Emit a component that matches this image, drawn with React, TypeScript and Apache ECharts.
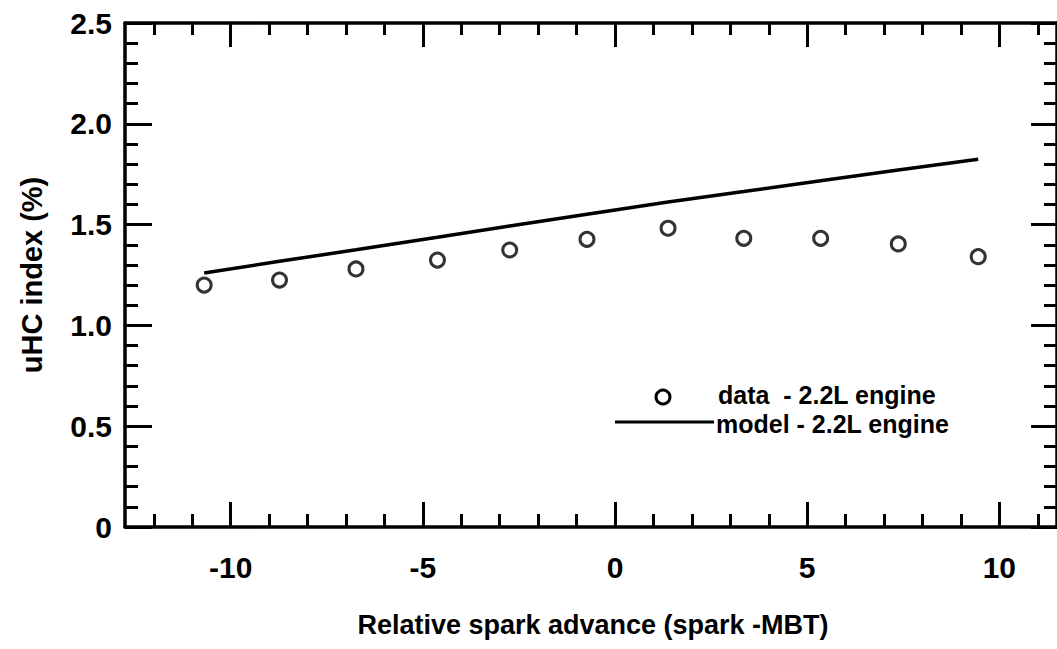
import React, { useEffect, useRef } from "react";
import * as echarts from "echarts";

const sparkAdvance = [-10.69, -8.73, -6.74, -4.62, -2.74, -0.73, 1.38, 3.35, 5.35, 7.37, 9.45];
const dataUHC = [1.2, 1.225, 1.28, 1.324, 1.374, 1.427, 1.482, 1.432, 1.432, 1.404, 1.341];
const modelUHC = [1.26, 1.318, 1.375, 1.437, 1.493, 1.551, 1.612, 1.664, 1.718, 1.771, 1.824];
const xMajorTicks = [-10, -5, 0, 5, 10];
const xMinorTicks = [-12, -11, -9, -8, -7, -6, -4, -3, -2, -1, 1, 2, 3, 4, 6, 7, 8, 9, 11];
const legendData = "data  - 2.2L engine";
const legendModel = "model - 2.2L engine";
const xTitle = "Relative spark advance (spark -MBT)";
const yTitle = "uHC index (%)";

const FONT = "'Liberation Sans', Arial, Helvetica, sans-serif";

export default function App() {
  const ref = useRef<HTMLDivElement>(null);
  useEffect(() => {
    if (!ref.current) return;
    const chart = echarts.init(ref.current, undefined, { renderer: "svg" });
    const xMin = -12.75;
    const xMax = 11.5;
    const lineStyle = { color: "#000", width: 3 };
    const mkX = (pos: string, ticks: number[], len: number, showLine: boolean, showLabel: boolean) => ({
      type: "value",
      gridIndex: 0,
      position: pos,
      min: xMin,
      max: xMax,
      axisLine: { show: showLine, onZero: false, lineStyle: { color: "#000", width: 3.5 } },
      axisTick: { show: true, inside: true, length: len, customValues: ticks, lineStyle },
      axisLabel: showLabel
        ? {
            show: true,
            customValues: ticks,
            margin: 25,
            fontSize: 30,
            fontWeight: "bold",
            color: "#000",
            fontFamily: FONT,
          }
        : { show: false },
      splitLine: { show: false },
    });
    const mkY = (pos: string, showLabel: boolean, major: number) => ({
      type: "value",
      gridIndex: 0,
      position: pos,
      min: 0,
      max: 2.5,
      interval: 0.5,
      axisLine: { show: true, onZero: false, lineStyle: { color: "#000", width: 3.5 } },
      axisTick: { show: true, inside: true, length: major, lineStyle },
      minorTick: { show: true, splitNumber: 5, length: 13, lineStyle },
      axisLabel: showLabel
        ? {
            show: true,
            margin: 13,
            fontSize: 30,
            fontWeight: "bold",
            color: "#000",
            fontFamily: FONT,
            formatter: (v: number) => (v === 0 ? "0" : v.toFixed(1)),
          }
        : { show: false },
      splitLine: { show: false },
      minorSplitLine: { show: false },
    });
    chart.setOption({
      animation: false,
      backgroundColor: "#fff",
      grid: { left: 125, top: 23, width: 936, height: 504, containLabel: false },
      xAxis: [
        mkX("bottom", xMajorTicks, 25, true, true),
        mkX("bottom", xMinorTicks, 13, false, false),
        mkX("top", xMajorTicks, 24, true, false),
        mkX("top", xMinorTicks, 12, false, false),
      ],
      yAxis: [mkY("left", true, 27), mkY("right", false, 26)],
      series: [
        {
          type: "line",
          name: "model",
          xAxisIndex: 0,
          yAxisIndex: 0,
          data: sparkAdvance.map((x, i) => [x, modelUHC[i]]),
          showSymbol: false,
          symbol: "none",
          lineStyle: { color: "#000", width: 3.5 },
          z: 3,
        },
        {
          type: "scatter",
          name: "data",
          xAxisIndex: 0,
          yAxisIndex: 0,
          data: sparkAdvance.map((x, i) => [x, dataUHC[i]]),
          symbol: "circle",
          symbolSize: 14,
          itemStyle: { color: "#fff", borderColor: "#000", borderWidth: 3 },
          z: 4,
        },
      ],
      graphic: [
        {
          type: "circle",
          shape: { cx: 663, cy: 397, r: 7 },
          style: { fill: "#fff", stroke: "#000", lineWidth: 3 },
        },
        {
          type: "text",
          x: 718,
          y: 395,
          style: {
            text: legendData,
            font: `bold 25px ${FONT}`,
            fill: "#000",
            textVerticalAlign: "middle",
          },
        },
        {
          type: "line",
          shape: { x1: 615, y1: 422, x2: 714, y2: 422 },
          style: { stroke: "#000", lineWidth: 3 },
        },
        {
          type: "text",
          x: 716,
          y: 424,
          style: {
            text: legendModel,
            font: `bold 25px ${FONT}`,
            fill: "#000",
            textVerticalAlign: "middle",
          },
        },
        {
          type: "text",
          x: 593,
          y: 625,
          style: {
            text: xTitle,
            font: `bold 27px ${FONT}`,
            fill: "#000",
            textAlign: "center",
            textVerticalAlign: "middle",
          },
        },
        {
          type: "text",
          x: 32,
          y: 275,
          rotation: Math.PI / 2,
          style: {
            text: yTitle,
            font: `bold 29px ${FONT}`,
            fill: "#000",
            textAlign: "center",
            textVerticalAlign: "middle",
          },
        },
      ],
    });
    return () => chart.dispose();
  }, []);
  return (
    <div
      ref={ref}
      style={{ position: "absolute", left: 0, top: 0, width: 1057, height: 649, background: "#fff" }}
    />
  );
}
